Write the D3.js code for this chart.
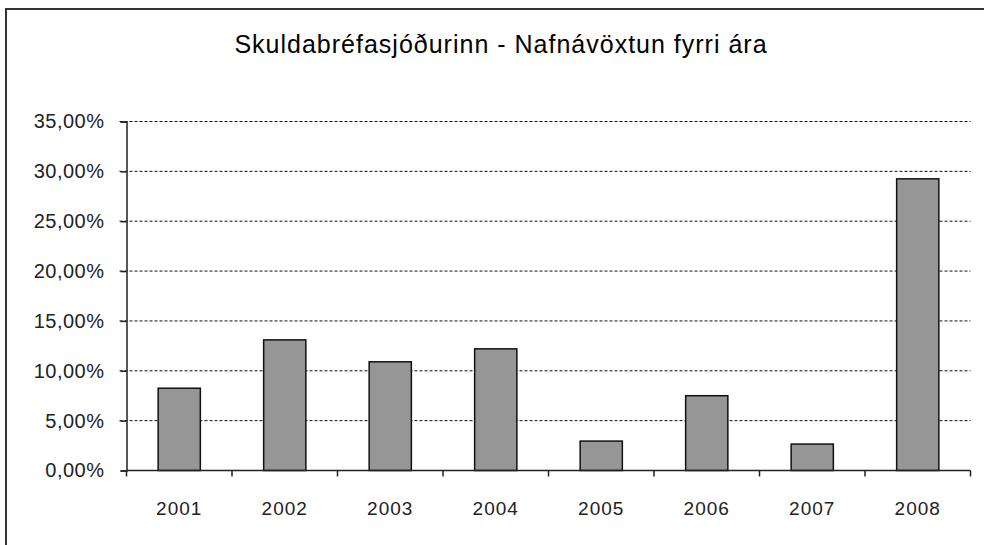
<!DOCTYPE html>
<html>
<head>
<meta charset="utf-8">
<script src="https://cdn.jsdelivr.net/npm/d3@7"></script>
<style>
  body { margin: 0; background: #fff; }
  svg { display: block; font-family: Arial, "Liberation Sans", sans-serif; }
</style>
</head>
<body>
<div id="chart-container"></div>
<script>
const years = ['2001', '2002', '2003', '2004', '2005', '2006', '2007', '2008'];
const returns = [8.25, 13.1, 10.9, 12.2, 2.95, 7.5, 2.65, 29.25];
const yTicks = [0, 5, 10, 15, 20, 25, 30, 35];
const title = 'Skuldabréfasjóðurinn - Nafnávöxtun fyrri ára';

var chart = {
  width: 984,
  height: 545,
  left: 126.5,
  right: 970.5,
  top: 121.5,
  bottom: 470.5,
};

const isLocale = d3.formatLocale({ decimal: ',', thousands: '.', grouping: [3], currency: ['', ' kr'] });
const pct = isLocale.format('.2f');

const svg = d3.select('#chart-container')
              .append('svg')
              .attr('width', chart.width)
              .attr('height', chart.height);

// frame of the chart area (runs off the right and bottom edge)
svg.append('rect')
   .attr('x', 6)
   .attr('y', 9)
   .attr('width', 1000)
   .attr('height', 560)
   .attr('fill', '#fff')
   .attr('stroke', '#333')
   .attr('stroke-width', 2);

svg.append('text')
   .attr('x', 501)
   .attr('y', 53)
   .attr('text-anchor', 'middle')
   .attr('font-size', 25)
   .attr('letter-spacing', 1)
   .attr('fill', '#000')
   .text(title);

const x = d3.scaleBand()
            .domain(years)
            .range([chart.left, chart.right])
            .paddingInner(0.6)
            .paddingOuter(0.3);

const y = d3.scaleLinear()
            .domain([0, 35])
            .range([chart.bottom, chart.top]);

// dashed gridlines
svg.append('g')
   .selectAll('line')
   .data(yTicks.filter(d => d > 0))
   .enter()
   .append('line')
   .attr('x1', chart.left - 7)
   .attr('x2', chart.right)
   .attr('y1', d => y(d))
   .attr('y2', d => y(d))
   .attr('stroke', '#111')
   .attr('stroke-width', 1)
   .attr('stroke-dasharray', '3,2');

const yAxis = svg.append('g')
                 .attr('transform', `translate(${chart.left}, 0)`)
                 .call(d3.axisLeft(y)
                         .tickValues(yTicks)
                         .tickSize(6)
                         .tickPadding(16)
                         .tickFormat(d => pct(d) + '%'));

yAxis.selectAll('.domain').attr('stroke', '#222').attr('stroke-width', 1.5);
yAxis.selectAll('.tick line').attr('stroke', '#222').attr('stroke-width', 1.5);
yAxis.selectAll('.tick text')
     .attr('font-size', 20)
     .attr('letter-spacing', 0.5)
     .attr('fill', '#222')
     .attr('font-family', 'Arial, "Liberation Sans", sans-serif');

const bars = svg.append('g')
                .selectAll('rect')
                .data(returns)
                .enter()
                .append('rect')
                .attr('x', (d, i) => x(years[i]))
                .attr('y', d => y(d))
                .attr('width', x.bandwidth())
                .attr('height', d => y(0) - y(d))
                .attr('fill', '#969696')
                .attr('stroke', '#111')
                .attr('stroke-width', 1.5);

// x axis: baseline, ticks between categories, year labels
svg.append('line')
   .attr('x1', chart.left)
   .attr('x2', chart.right)
   .attr('y1', y(0))
   .attr('y2', y(0))
   .attr('stroke', '#222')
   .attr('stroke-width', 1.5);

svg.append('g')
   .selectAll('line')
   .data(d3.range(years.length + 1))
   .enter()
   .append('line')
   .attr('x1', i => chart.left + i * x.step())
   .attr('x2', i => chart.left + i * x.step())
   .attr('y1', y(0))
   .attr('y2', y(0) + 6)
   .attr('stroke', '#222')
   .attr('stroke-width', 1.5);

svg.append('g')
   .selectAll('text')
   .data(years)
   .enter()
   .append('text')
   .attr('x', d => x(d) + x.bandwidth() / 2)
   .attr('y', 515)
   .attr('text-anchor', 'middle')
   .attr('font-size', 19)
   .attr('letter-spacing', 1)
   .attr('fill', '#222')
   .text(d => d);
</script>
</body>
</html>
